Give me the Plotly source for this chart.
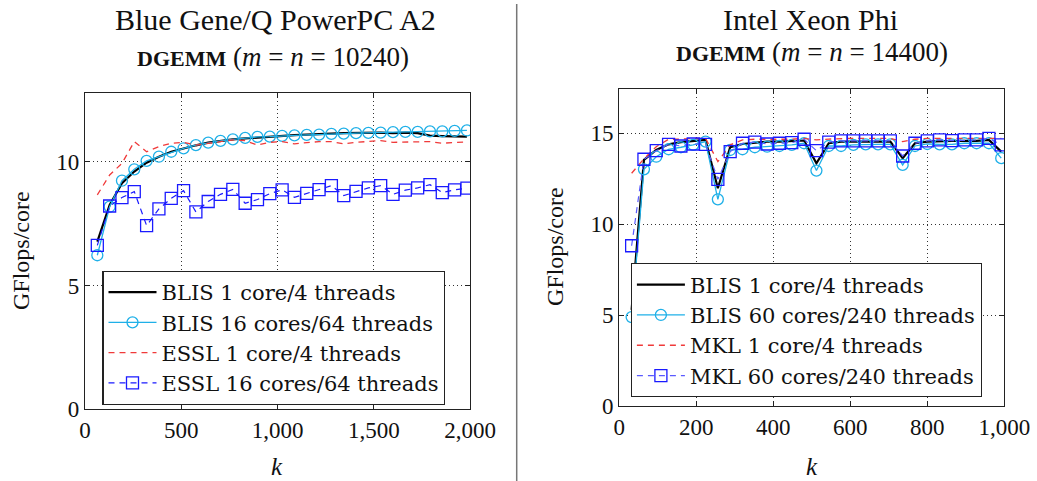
import plotly.graph_objects as go

# ---------------- Left: Blue Gene/Q ----------------
k_left = [64, 128, 192, 256, 320, 384, 448, 512, 576, 640, 704, 768, 832, 896, 960,
          1024, 1088, 1152, 1216, 1280, 1344, 1408, 1472, 1536, 1600, 1664, 1728,
          1792, 1856, 1920, 1984]
blis_1core_bgq = [6.77, 8.25, 9.13, 9.60, 9.96, 10.20, 10.40, 10.54, 10.66, 10.77, 10.84,
                  10.90, 10.94, 10.98, 11.01, 11.04, 11.07, 11.09, 11.12, 11.13, 11.15,
                  11.16, 11.17, 11.17, 11.15, 11.17, 11.15, 11.05, 11.03, 11.01, 11.01]
blis_16cores_bgq = [6.22, 8.18, 9.23, 9.69, 10.03, 10.20, 10.40, 10.54, 10.67, 10.77, 10.84,
                    10.90, 10.96, 11.00, 11.01, 11.04, 11.06, 11.08, 11.09, 11.12, 11.13,
                    11.15, 11.16, 11.17, 11.19, 11.20, 11.20, 11.22, 11.22, 11.24, 11.26]
essl_1core = [8.66, 9.46, 9.93, 10.81, 10.40, 10.61, 10.74, 10.78, 10.67, 10.74, 10.81,
              10.88, 10.85, 10.67, 10.78, 10.81, 10.72, 10.78, 10.81, 10.81, 10.72,
              10.78, 10.81, 10.85, 10.78, 10.78, 10.81, 10.81, 10.74, 10.78, 10.79]
essl_16cores = [6.62, 8.21, 8.55, 8.79, 7.42, 8.09, 8.52, 8.83, 7.97, 8.39, 8.68, 8.88,
                8.32, 8.47, 8.71, 8.86, 8.56, 8.72, 8.87, 9.03, 8.63, 8.80, 8.94, 9.03,
                8.68, 8.85, 8.94, 9.07, 8.75, 8.86, 8.93]

# ---------------- Right: Xeon Phi ----------------
k_right = [32, 64, 96, 128, 160, 192, 224, 256, 288, 320, 352, 384, 416, 448, 480, 512,
           544, 576, 608, 640, 672, 704, 736, 768, 800, 832, 864, 896, 928, 960, 992]
blis_1core_phi = [5.3, 13.54, 14.08, 14.39, 14.51, 14.58, 14.63, 11.98, 14.23, 14.41, 14.48,
                  14.54, 14.54, 14.58, 14.60, 13.35, 14.45, 14.54, 14.54, 14.54, 14.58,
                  14.54, 13.63, 14.45, 14.54, 14.58, 14.58, 14.58, 14.58, 14.63, 13.99]
blis_60cores_phi = [4.9, 13.02, 13.71, 14.12, 14.23, 14.36, 14.54, 11.37, 14.08, 14.12, 14.23,
                    14.26, 14.30, 14.36, 14.45, 12.95, 14.30, 14.30, 14.36, 14.39, 14.39,
                    14.39, 13.26, 14.30, 14.41, 14.39, 14.39, 14.45, 14.45, 14.45, 13.63]
mkl_1core = [12.8, 13.6, 14.26, 14.67, 14.67, 14.72, 14.72, 13.44, 14.36, 14.63, 14.67,
             14.67, 14.67, 14.67, 14.72, 14.63, 14.68, 14.72, 14.72, 14.72, 14.72,
             14.72, 14.54, 14.67, 14.72, 14.72, 14.72, 14.72, 14.72, 14.76, 14.72]
mkl_60cores = [8.82, 13.57, 14.04, 14.39, 14.30, 14.41, 14.39, 12.47, 13.99, 14.45, 14.51,
               14.41, 14.45, 14.48, 14.67, 14.04, 14.51, 14.58, 14.58, 14.58, 14.58,
               14.58, 13.75, 14.45, 14.58, 14.63, 14.59, 14.63, 14.63, 14.72, 14.36]

left_xticks = [0, 500, 1000, 1500, 2000]
left_xlabels = ["0", "500", "1,000", "1,500", "2,000"]
right_xticks = [0, 200, 400, 600, 800, 1000]
right_xlabels = ["0", "200", "400", "600", "800", "1,000"]

FONT = "Liberation Serif"
LEGFONT = "DejaVu Serif"
BLACK = "#000000"
CYAN = "#1fb0e8"
RED = "#f03a3a"
BLUE = "#1a1aff"
BLUE_LIGHT = "#5a5aff"

fig = go.Figure()

def add_series(x, y, name, xa, ya, legend, color, width, dash="solid", symbol=None, msize=10, lcolor=None):
    mode = "lines+markers" if symbol else "lines"
    kw = dict(x=x, y=y, name=name, xaxis=xa, yaxis=ya, legend=legend, mode=mode,
              line=dict(color=lcolor or color, width=width, dash=dash))
    if symbol:
        kw["marker"] = dict(symbol=symbol, size=msize, color=color, line=dict(color=color, width=1.3))
    fig.add_trace(go.Scatter(**kw))

add_series(k_left, blis_1core_bgq, "BLIS 1 core/4 threads", "x", "y", "legend", BLACK, 2.2)
add_series(k_left, blis_16cores_bgq, "BLIS 16 cores/64 threads", "x", "y", "legend", CYAN, 1.3,
           symbol="circle-open", msize=11)
add_series(k_left, essl_1core, "ESSL 1 core/4 threads", "x", "y", "legend", RED, 1.3, dash="6px,5px")
add_series(k_left, essl_16cores, "ESSL 16 cores/64 threads", "x", "y", "legend", BLUE, 1.2,
           dash="6px,5px", symbol="square-open", msize=12)

add_series(k_right, blis_1core_phi, "BLIS 1 core/4 threads", "x2", "y2", "legend2", BLACK, 2.2)
add_series(k_right, blis_60cores_phi, "BLIS 60 cores/240 threads", "x2", "y2", "legend2", CYAN, 1.3,
           symbol="circle-open", msize=11)
add_series(k_right, mkl_1core, "MKL 1 core/4 threads", "x2", "y2", "legend2", RED, 1.3, dash="6px,5px")
add_series(k_right, mkl_60cores, "MKL 60 cores/240 threads", "x2", "y2", "legend2", BLUE, 1.2,
           dash="6px,5px", symbol="square-open", msize=12, lcolor=BLUE_LIGHT)

W, H = 1037, 481
def px(v):
    return v / W
def py(v):
    return 1 - v / H

axis_common = dict(showline=True, linecolor="#222", linewidth=1.2, mirror="allticks",
                   ticks="inside", ticklen=5, tickcolor="#222", showgrid=True,
                   gridcolor="#333", griddash="1px,3px", gridwidth=1, zeroline=False,
                   automargin=False,
                   tickfont=dict(family=FONT, size=23, color="#111"))

legend_common = dict(xanchor="left", yanchor="top", bgcolor="white", bordercolor="#222",
                     borderwidth=1.2, font=dict(family=LEGFONT, size=21, color="#111"),
                     tracegroupgap=0, itemwidth=48)

fig.update_layout(
    width=W, height=H, margin=dict(l=0, r=0, t=0, b=0, autoexpand=False),
    paper_bgcolor="white", plot_bgcolor="white",
    font=dict(family=FONT, color="#111"),
    xaxis=dict(domain=[px(85), px(470)], range=[0, 2000], tickvals=left_xticks,
               ticktext=left_xlabels, anchor="y", **axis_common),
    yaxis=dict(domain=[py(409.3), py(93.3)], range=[0, 12.76], tickvals=[0, 5, 10],
               anchor="x", **axis_common),
    xaxis2=dict(domain=[px(619.3), px(1004.3)], range=[0, 1000], tickvals=right_xticks,
                ticktext=right_xlabels, anchor="y2", **axis_common),
    yaxis2=dict(domain=[py(406.3), py(89)], range=[0, 17.43], tickvals=[0, 5, 10, 15],
                anchor="x2", **axis_common),
    legend=dict(x=px(102.3), y=py(270.7), **legend_common),
    legend2=dict(x=px(630.7), y=py(263.3), **legend_common),
)

ann = []
def text(x, y, s, size, angle=0):
    ann.append(dict(x=px(x), y=py(y), xref="paper", yref="paper", text=s, showarrow=False,
                    xanchor="center", yanchor="middle", textangle=angle,
                    font=dict(family=FONT, size=size, color="#111")))

text(275, 19, "Blue Gene/Q PowerPC A2", 30)
text(273, 57, "<span style='font-size:22px'><b>DGEMM</b></span> (<i>m</i> = <i>n</i> = 10240)", 27)
text(810, 19, "Intel Xeon Phi", 30)
text(812, 52, "<span style='font-size:22px'><b>DGEMM</b></span> (<i>m</i> = <i>n</i> = 14400)", 27)
text(21, 251, "GFlops/core", 24, -90)
text(555, 247, "GFlops/core", 24, -90)
text(277, 466, "<i>k</i>", 25)
text(812, 466, "<i>k</i>", 25)
fig.update_layout(annotations=ann)

fig.add_shape(type="line", xref="paper", yref="paper", x0=px(516.7), x1=px(516.7),
              y0=0, y1=py(4), line=dict(color="#777", width=1.5))

fig.write_html("out.html", config={"displayModeBar": False},
               post_script="document.body.style.margin='0';")
